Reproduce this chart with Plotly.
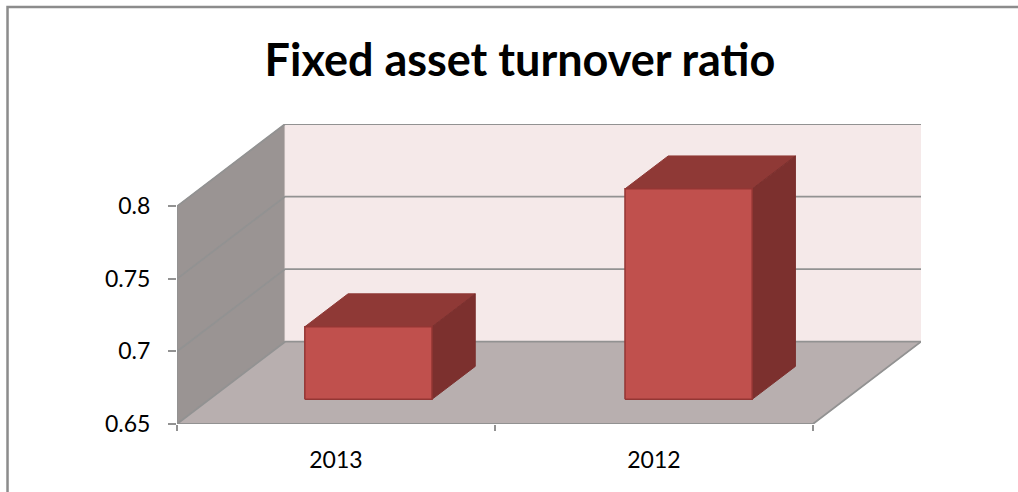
"""
plot.py: 3D-look column chart of the fixed asset turnover ratio, drawn as
oblique projected polygons on ordinary Plotly axes.
"""

import plotly.graph_objects as go

# data
years = ["2013", "2012"]
ratios = [0.70, 0.795]
y_ticks = [0.65, 0.7, 0.75, 0.8]
y_tick_labels = ["0.65", "0.7", "0.75", "0.8"]

# oblique projection: one unit of depth moves this far in x and in y
DEPTH_X = 0.34
DEPTH_Y = 0.0567
Y_BASE = y_ticks[0]
Y_TOP = y_ticks[-1]
X_END = len(years)

BAR_WIDTH = 0.4
BAR_Z0 = 0.3
BAR_Z1 = 0.7
BAR_CENTERS = [0.5, 1.507]

GRID = "#929292"
WALL_SIDE = "#9a9493"
WALL_BACK = "#f5e9e9"
FLOOR = "#b8afaf"
BAR_FRONT = "#c0504d"
BAR_TOP = "#8f3936"
BAR_SIDE = "#7c302e"
BAR_EDGE = "#943634"


def project(x, y, z):
    return x + DEPTH_X * z, y + DEPTH_Y * z


def add_poly(fig, points, fill, line_color, line_width=1.0):
    xs, ys = zip(*[project(*p) for p in points])
    fig.add_trace(go.Scatter(
        x=list(xs) + [xs[0]],
        y=list(ys) + [ys[0]],
        mode="lines",
        fill="toself",
        fillcolor=fill,
        line=dict(color=line_color, width=line_width),
        hoverinfo="skip",
        showlegend=False,
        cliponaxis=False,
    ))


def add_line(fig, points, color=GRID, width=1.8):
    xs, ys = zip(*[project(*p) for p in points])
    fig.add_trace(go.Scatter(
        x=list(xs),
        y=list(ys),
        mode="lines",
        line=dict(color=color, width=width),
        hoverinfo="skip",
        showlegend=False,
        cliponaxis=False,
    ))


fig = go.Figure()

# walls and floor
add_poly(fig, [(0, Y_BASE, 0), (0, Y_TOP, 0), (0, Y_TOP, 1), (0, Y_BASE, 1)], WALL_SIDE, WALL_SIDE)
add_poly(fig, [(0, Y_BASE, 1), (0, Y_TOP, 1), (X_END, Y_TOP, 1), (X_END, Y_BASE, 1)], WALL_BACK, WALL_BACK)
add_poly(fig, [(0, Y_BASE, 0), (0, Y_BASE, 1), (X_END, Y_BASE, 1), (X_END, Y_BASE, 0)], FLOOR, FLOOR)

# gridlines run along the side wall and then across the back wall
for tick in y_ticks:
    add_line(fig, [(0, tick, 0), (0, tick, 1), (X_END, tick, 1)])
add_line(fig, [(0, Y_BASE, 0), (0, Y_TOP, 0)])
add_line(fig, [(0, Y_BASE, 0), (X_END, Y_BASE, 0), (X_END, Y_BASE, 1)])

# bars
for center, value in zip(BAR_CENTERS, ratios):
    x0 = center - BAR_WIDTH / 2
    x1 = center + BAR_WIDTH / 2
    add_poly(fig, [(x0, value, BAR_Z0), (x0, value, BAR_Z1), (x1, value, BAR_Z1), (x1, value, BAR_Z0)],
             BAR_TOP, BAR_TOP)
    add_poly(fig, [(x1, Y_BASE, BAR_Z0), (x1, value, BAR_Z0), (x1, value, BAR_Z1), (x1, Y_BASE, BAR_Z1)],
             BAR_SIDE, BAR_SIDE)
    add_poly(fig, [(x0, Y_BASE, BAR_Z0), (x0, value, BAR_Z0), (x1, value, BAR_Z0), (x1, Y_BASE, BAR_Z0)],
             BAR_FRONT, BAR_EDGE, 1.5)

fig.update_layout(
    width=1018,
    height=492,
    margin=dict(l=177, r=97, t=124, b=68),
    paper_bgcolor="white",
    plot_bgcolor="rgba(0,0,0,0)",
    font=dict(family="Lato", size=23, color="black"),
    title=dict(
        text="<b>Fixed asset turnover ratio</b>",
        font=dict(family="Lato", size=45, color="black"),
        x=520 / 1018, xanchor="center",
        y=1 - 60 / 492, yanchor="middle",
    ),
    xaxis=dict(
        range=[0, X_END + DEPTH_X],
        tickvals=[i + 0.5 for i in range(len(years))],
        ticktext=years,
        ticks="",
        showgrid=False,
        zeroline=False,
        ticklabelstandoff=20,
        minor=dict(tickvals=list(range(X_END + 1)), ticks="outside", ticklen=6,
                   tickcolor=GRID, tickwidth=1.5, showgrid=False),
    ),
    yaxis=dict(
        range=[Y_BASE, Y_TOP + DEPTH_Y],
        tickvals=y_ticks,
        ticktext=y_tick_labels,
        ticks="outside",
        ticklen=8,
        tickcolor=GRID,
        tickwidth=1.5,
        showgrid=False,
        zeroline=False,
        ticklabelstandoff=13,
    ),
    # the frame of the pasted chart, cut off at the bottom of the picture
    shapes=[dict(
        type="path",
        xref="paper", yref="paper",
        path="M -0.2278 -0.23 L -0.2278 1.39 L 1.2 1.39",
        line=dict(color="#8c8c8c", width=2.5),
    )],
)

fig.write_html(
    "out.html",
    config={"displayModeBar": False},
    post_script="document.body.style.margin = '0';",
)
